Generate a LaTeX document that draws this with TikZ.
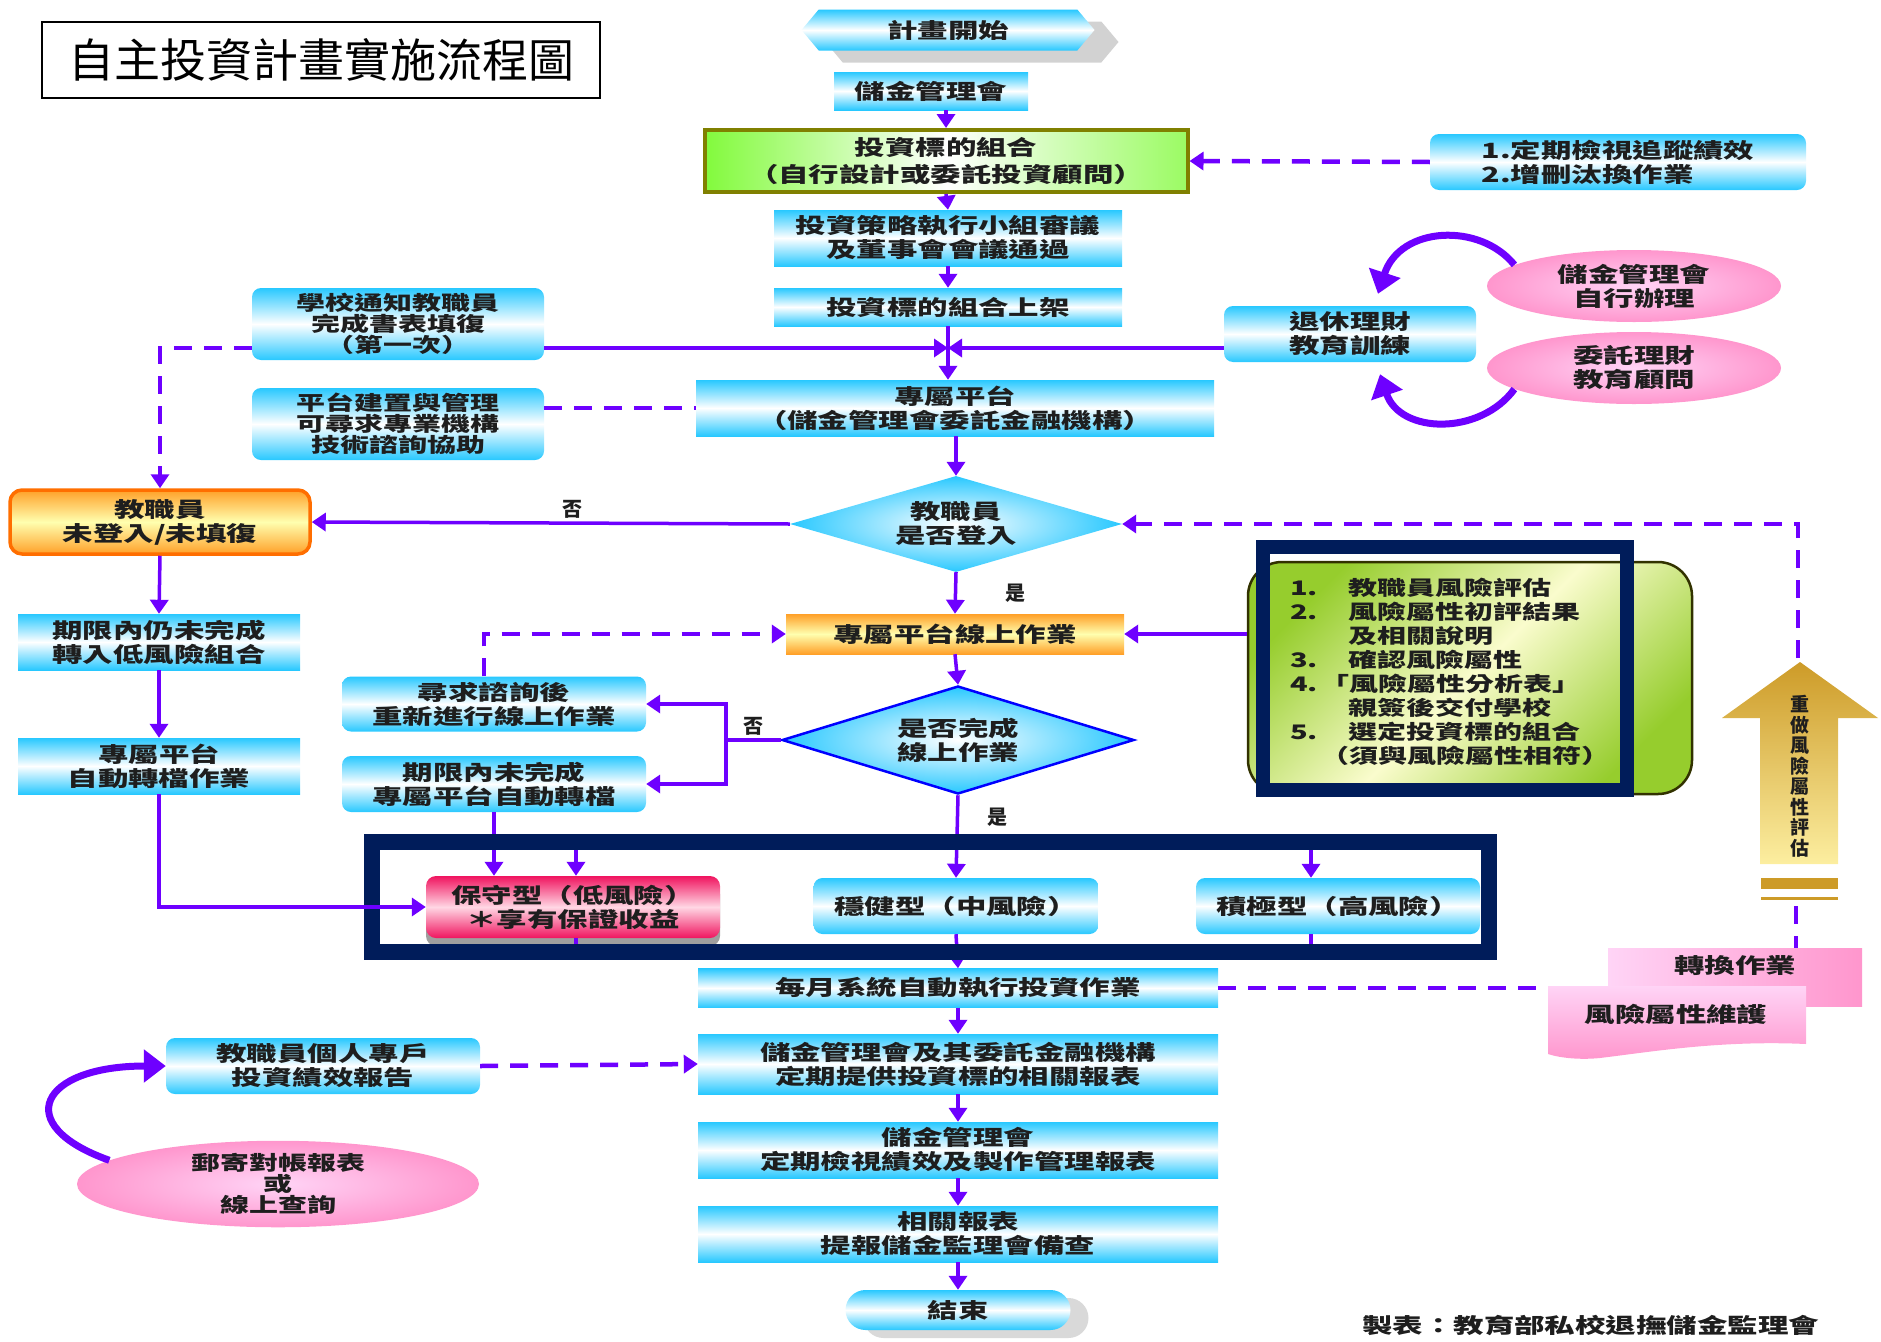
\documentclass[tikz,border=0pt]{standalone}
\usepackage{fontspec}
\setmainfont{Noto Sans CJK TC}
\newfontfamily\boxfont[FakeStretch=1.45]{Noto Sans CJK TC}
\newfontfamily\plainfont{Noto Sans CJK TC}
\usetikzlibrary{shapes.geometric,shapes.symbols,shadows,arrows.meta}

\definecolor{flowviolet}{RGB}{110,0,255}
\definecolor{skyc}{RGB}{40,200,255}
\definecolor{navyc}{RGB}{0,28,90}
\definecolor{pinkout}{RGB}{255,150,205}
\definecolor{pinkin}{RGB}{255,212,246}
\definecolor{oliveb}{RGB}{128,128,0}
\definecolor{limec}{RGB}{130,250,60}
\definecolor{orangec}{RGB}{255,160,40}
\definecolor{paleyel}{RGB}{255,255,175}
\definecolor{rosec}{RGB}{240,20,95}
\definecolor{goldc}{RGB}{205,155,40}
\definecolor{txtc}{RGB}{30,30,30}

\tikzset{
  boxtext/.style={font=\boxfont\bfseries\fontsize{21}{24}\selectfont, text=txtc, align=center, inner sep=0pt},
  tight/.style={font=\boxfont\bfseries\fontsize{20}{21}\selectfont},
  cyanbox/.style={boxtext, rectangle, top color=skyc, bottom color=skyc, middle color=white},
  cyanround/.style={cyanbox, rounded corners=9pt},
  orangebox/.style={boxtext, rectangle, top color=orangec, bottom color=orangec, middle color=paleyel},
  warnbox/.style={orangebox, rounded corners=12pt, draw={rgb,255:red,255;green,110;blue,0}, line width=3.5pt},
  rosebox/.style={boxtext, rectangle, rounded corners=10pt, top color=rosec, bottom color=rosec, middle color={rgb,255:red,255;green,215;blue,228},
    drop shadow={shadow xshift=0pt, shadow yshift=-8pt, fill=gray!75, opacity=1}},
  decision/.style={boxtext, diamond, aspect=3.4, inner color=white, outer color=skyc},
  pinkell/.style={boxtext, ellipse, inner color=pinkin, outer color=pinkout},
  flow/.style={draw=flowviolet, line width=3.5pt, -{Triangle[length=14pt,width=18pt]}},
  flowline/.style={draw=flowviolet, line width=3.5pt},
  dashflow/.style={flow, line width=4.5pt, dash pattern=on 18pt off 12pt},
  dashline/.style={flowline, line width=4.5pt, dash pattern=on 18pt off 12pt},
  curvy/.style={draw=flowviolet, line width=7pt, -{Triangle[length=22pt,width=32pt]}},
  flowlabel/.style={font=\plainfont\bfseries\fontsize{20}{22}\selectfont, text=txtc, inner sep=0pt}
}

\begin{document}
\begin{tikzpicture}[x=1pt,y=-1pt]
  \useasboundingbox (0,0) rectangle (1881,1341);

  \node[draw=black, line width=1.4pt, minimum width=558pt, minimum height=76pt,
    font=\plainfont\fontsize{46}{50}\selectfont] (title) at (321,60) {自主投資計畫實施流程圖};

  % center column
  \node[cyanbox, signal, signal to=west and east, signal pointer angle=100, minimum width=293pt, minimum height=41pt,
    drop shadow={shadow xshift=24pt, shadow yshift=-12pt, fill=gray!35, opacity=1}] (start) at (948,30) {計畫開始};
  \node[cyanbox, minimum width=194pt, minimum height=38pt] (mgmt) at (931,91) {儲金管理會};
  \node[boxtext, font=\boxfont\bfseries\fontsize{21}{27}\selectfont, draw=oliveb, line width=4pt, minimum width=483pt, minimum height=62pt,
    left color=limec, right color=limec!80!white, middle color=white] (combo) at (946,161) {投資標的組合\\（自行設計或委託投資顧問）};
  \node[cyanbox, minimum width=348pt, minimum height=56pt] (strategy) at (948,238) {投資策略執行小組審議\\及董事會會議通過};
  \node[cyanbox, minimum width=348pt, minimum height=38pt] (shelf) at (948,307) {投資標的組合上架};
  \coordinate (junc) at (948,348);
  \node[cyanbox, minimum width=518pt, minimum height=56pt] (platform) at (955,408) {專屬平台\\（儲金管理會委託金融機構）};
  \node[decision, minimum width=332pt, minimum height=96pt] (login) at (956,524) {教職員\\是否登入};
  \node[orangebox, minimum width=338pt, minimum height=40pt] (online) at (955,634) {專屬平台線上作業};
  \node[decision, draw=blue, line width=2.5pt, minimum width=352pt, minimum height=108pt] (done) at (958,740) {是否完成\\線上作業};
  \node[rosebox, minimum width=294pt, minimum height=62pt] (safe) at (573,907) {保守型（低風險）\\＊享有保證收益};
  \node[cyanround, minimum width=285pt, minimum height=56pt] (steady) at (956,906) {穩健型（中風險）};
  \node[cyanround, minimum width=284pt, minimum height=56pt] (growth) at (1338,906) {積極型（高風險）};
  \node[cyanbox, minimum width=520pt, minimum height=39pt] (monthly) at (958,988) {每月系統自動執行投資作業};
  \node[cyanbox, minimum width=520pt, minimum height=60pt] (reports) at (958,1064) {儲金管理會及其委託金融機構\\定期提供投資標的相關報表};
  \node[cyanbox, minimum width=520pt, minimum height=56pt] (review) at (958,1150) {儲金管理會\\定期檢視績效及製作管理報表};
  \node[cyanbox, minimum width=520pt, minimum height=56pt] (filing) at (958,1234) {相關報表\\提報儲金監理會備查};
  \node[cyanbox, rounded corners=20pt, minimum width=225pt, minimum height=40pt,
    drop shadow={shadow xshift=18pt, shadow yshift=-8pt, fill=gray!30, opacity=1}] (finish) at (958,1310) {結束};

  % left side
  \node[cyanround, tight, minimum width=292pt, minimum height=72pt] (notice) at (398,324) {學校通知教職員\\完成書表填復\\（第一次）};
  \node[cyanround, tight, minimum width=292pt, minimum height=72pt] (build) at (398,424) {平台建置與管理\\可尋求專業機構\\技術諮詢協助};
  \node[warnbox, minimum width=300pt, minimum height=64pt] (nologin) at (160,522) {教職員\\未登入/未填復};
  \node[cyanbox, minimum width=282pt, minimum height=56pt] (lapse) at (159,642) {期限內仍未完成\\轉入低風險組合};
  \node[cyanbox, minimum width=282pt, minimum height=56pt] (autotr) at (159,766) {專屬平台\\自動轉檔作業};
  \node[cyanround, minimum width=304pt, minimum height=55pt] (seek) at (494,704) {尋求諮詢後\\重新進行線上作業};
  \node[cyanround, minimum width=304pt, minimum height=56pt] (expire) at (494,784) {期限內未完成\\專屬平台自動轉檔};
  \node[cyanround, minimum width=314pt, minimum height=56pt] (pers) at (323,1066) {教職員個人專戶\\投資績效報告};
  \node[pinkell, tight, minimum width=402pt, minimum height=84pt] (mail) at (278,1184) {郵寄對帳報表\\或\\線上查詢};

  % right side
  \node[cyanround, minimum width=376pt, minimum height=56pt, align=left] (checkup) at (1618,162) {1.定期檢視追蹤績效\\2.增刪汰換作業};
  \node[cyanround, minimum width=252pt, minimum height=56pt] (retire) at (1350,334) {退休理財\\教育訓練};
  \node[pinkell, minimum width=294pt, minimum height=72pt] (selfrun) at (1634,286) {儲金管理會\\自行辦理};
  \node[pinkell, minimum width=294pt, minimum height=72pt] (advisor) at (1634,368) {委託理財\\教育顧問};
  \node[draw={rgb,255:red,50;green,50;blue,0}, line width=2.5pt, rounded corners=34pt, minimum width=444pt, minimum height=232pt,
    left color={rgb,255:red,150;green,205;blue,45}, right color={rgb,255:red,150;green,205;blue,45},
    middle color={rgb,255:red,250;green,252;blue,205}, shading angle=45] (riskbox) at (1470,678) {};
  \node[boxtext, font=\boxfont\bfseries\fontsize{20}{24}\selectfont, align=left, anchor=north west] (risklist) at (1290,578)
    {\makebox[58pt][l]{1.}教職員風險評估\\
     \makebox[58pt][l]{2.}風險屬性初評結果\\
     \makebox[58pt][l]{}及相關說明\\
     \makebox[58pt][l]{3.}確認風險屬性\\
     \makebox[30pt][l]{4.}「風險屬性分析表」\\
     \makebox[58pt][l]{}親簽後交付學校\\
     \makebox[58pt][l]{5.}選定投資標的組合\\
     \makebox[30pt][l]{}（須與風險屬性相符）};
  \draw[navyc, line width=14pt] (1263,547) rectangle (1627,790);% frame round list

  \shade[top color=goldc, bottom color={rgb,255:red,252;green,238;blue,160}]
    (1800,662) -- (1878,718) -- (1838,718) -- (1838,864) -- (1760,864) -- (1760,718) -- (1722,718) -- cycle;
  \coordinate (redotip) at (1798,658);
  \node[font=\plainfont\bfseries\fontsize{19}{20.5}\selectfont, text=txtc, align=center, inner sep=0pt] (redo) at (1800,776)
    {重\\做\\風\\險\\屬\\性\\評\\估};
  \fill[goldc] (1761,878) rectangle (1838,889);
  \draw[goldc, line width=3pt] (1761,898) -- (1838,898);
  \coordinate (barfoot) at (1796,906);

  \shade[left color=pinkin, right color=pinkout] (1608,948) -- (1862,948) -- (1862,1006) -- (1608,1006) -- cycle;
  \node[boxtext] (convert) at (1735,966) {轉換作業};
  \coordinate (convtop) at (1796,948);
  \shade[top color=pinkin, bottom color=pinkout] (1548,986) -- (1806,986) -- (1806,1044)
    .. controls (1720,1040) and (1650,1052) .. (1600,1058) .. controls (1580,1060) and (1560,1058) .. (1548,1054) -- cycle;
  \node[boxtext] (maint) at (1676,1014) {風險屬性維護};
  \coordinate (maintleft) at (1540,988);

  \node[boxtext, anchor=west] (credit) at (1362,1326) {製表：教育部私校退撫儲金監理會};

  % connectors
  \draw[flow] (combo.north |- mgmt.south) -- (combo.north);
  \draw[flow] (combo.south) -- (strategy.north);
  \draw[flow] (strategy.south) -- (shelf.north);
  \draw[flow] (shelf.south) -- (platform.north -| shelf.south);
  \draw[flow] (notice.east |- junc) -- (junc);
  \draw[flow] (retire.west |- junc) -- (junc);
  \draw[dashflow] (notice.west |- junc) -| (nologin.north);
  \draw[dashline] (build.east |- platform.west) -- (platform.west);
  \draw[flow] (platform.south -| login.north) -- (login.north);
  \draw[flow] (login.west) -- (nologin.east) node[flowlabel, pos=0.455, above=3pt] {否};
  \draw[flow] (login.south) -- (online.north) node[flowlabel, midway, right=48pt] {是};
  \draw[flow] (online.south) -- (done.north);
  \coordinate (fork) at (726,740);
  \draw[flowline] (done.west) -- (fork) node[flowlabel, midway, above=3pt] {否};
  \draw[flow] (fork) |- (seek.east);
  \draw[flow] (fork) |- (expire.east);
  \draw[dashflow] ([xshift=-10pt]seek.north) |- (online.west);
  \coordinate (splitL) at (576,842);
  \coordinate (splitR) at (1311,842);
  \draw[flow] (done.south) -- (steady.north) node[flowlabel, pos=0.26, right=28pt] {是};
  \draw[flowline] (splitL) -- (splitR);
  \draw[flow] (splitL) -- (splitL |- safe.north);
  \draw[flow] (splitR) -- (splitR |- growth.north);
  \draw[flow] (expire.south) -- (expire.south |- safe.north);
  \draw[flow] (nologin.south) -- (lapse.north);
  \draw[flow] (lapse.south) -- (autotr.north);
  \coordinate (joinL) at (576,952);
  \coordinate (joinR) at (1311,952);
  \draw[flowline] (safe.south -| joinL) -- (joinL) -- (joinR) -- (growth.south -| joinR);
  \draw[flow] (steady.south) -- (monthly.north);
  \draw[flow] (monthly.south) -- (reports.north);
  \draw[flow] (reports.south) -- (review.north);
  \draw[flow] (review.south) -- (filing.north);
  \draw[flow] (filing.south) -- (finish.north);
  \draw[dashflow] (pers.east) -- (reports.west);
  \draw[dashline] (monthly.east) -- (maintleft);
  \draw[flow] (online.east -| riskbox.west) -- (online.east);
  \draw[dashflow] (checkup.west) -- (combo.east);
  \draw[dashflow] (redotip) |- (login.east);
  \draw[dashline] (barfoot) -- (convtop);
  \draw[curvy] (selfrun.170) .. controls (1480,222) and (1400,226) .. ([shift={(28pt,12pt)}]retire.north);
  \draw[curvy] (advisor.190) .. controls (1480,436) and (1400,434) .. ([shift={(30pt,-12pt)}]retire.south);
  \draw[curvy] (mail.172) .. controls (10,1125) and (40,1066) .. (pers.west);

  \draw[navyc, line width=16pt] (372,842) rectangle (1489,952);% frame round the three types
  \draw[flow] (autotr.south) |- (safe.west);
\end{tikzpicture}
\end{document}
